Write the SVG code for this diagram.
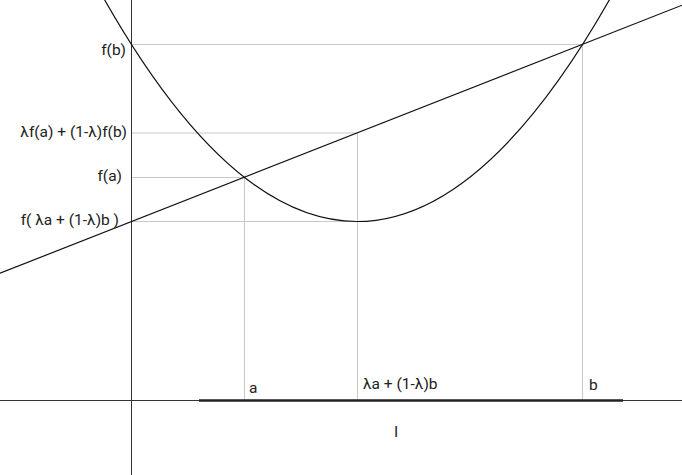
<svg xmlns="http://www.w3.org/2000/svg" width="682" height="475" viewBox="0 0 682 475">
<style>
.grid{stroke:#c8c8c8;stroke-width:1;fill:none}
.axis{stroke:#333;stroke-width:1;fill:none}
.curve{stroke:#111;stroke-width:1.2;fill:none}
text{font-family:Roboto,"Liberation Sans",sans-serif;font-size:15.5px;fill:#222}
.r{text-anchor:end}
</style>
<rect width="682" height="475" fill="#fff"/>
<g id="guides">
<path class="grid" d="M131 44.5H582M131 133H357M131 177.5H244M131 221.5H357M244.5 177V400M357.5 133V400M582.5 44V400"/>
</g>
<g id="axes">
<path class="axis" d="M131.5 0V475M0 400.5H682"/>
<path d="M199 400.5H623" stroke="#222" stroke-width="2.5"/>
</g>
<g id="curves">
<path class="curve" d="M100 -8.35Q357 451.35 614 -8.35"/>
<path class="curve" d="M0 273.2L682 5.2"/>
</g>
<g id="labels">
<text class="r" x="126" y="55">f(b)</text>
<text class="r" x="127" y="137">λf(a) + (1-λ)f(b)</text>
<text class="r" x="122" y="181">f(a)</text>
<text class="r" x="119" y="225">f( λa + (1-λ)b )</text>
<text x="249" y="393">a</text>
<text x="363" y="389">λa + (1-λ)b</text>
<text x="589" y="390">b</text>
<text x="394" y="437">I</text>
</g>
</svg>
